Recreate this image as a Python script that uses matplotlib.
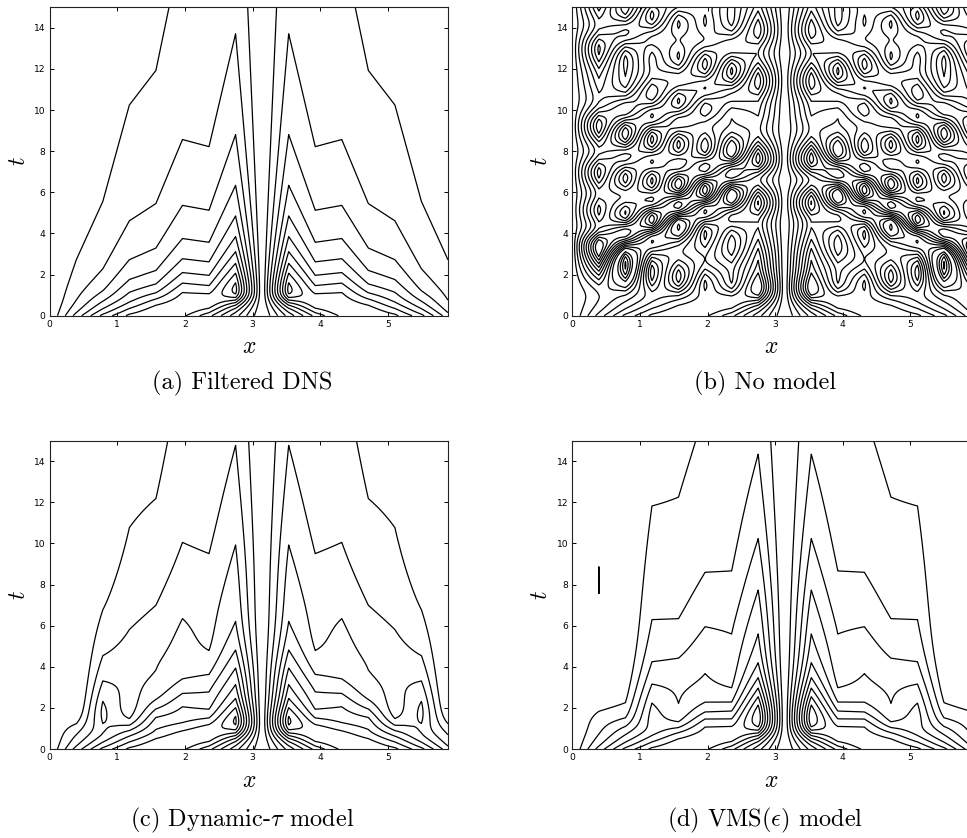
import numpy as np
import matplotlib
matplotlib.use("Agg")
import matplotlib.pyplot as plt

plt.rcParams["mathtext.fontset"] = "cm"

# ---------------------------------------------------------------------------
# Burgers' equation  u_t + (u^2/2)_x = nu u_xx  on [0, 2pi), u(x, 0) = sin(x)
# ---------------------------------------------------------------------------
domain_length = 2 * np.pi
n_coarse = 16            # LES grid points (modes |k| <= 7 retained)
n_fine = 2048            # DNS grid points
viscosity = 0.002        # DNS and unmodelled coarse run
model_viscosity = 0.01   # coarse runs with a subgrid model
t_final = 15.0
dt_save = 0.05
dt_fine = 0.00125
dt_coarse = 0.01
initial_amplitude = 1.0

tau_dynamic = 0.6        # residual-based fine-scale time scale
vms_coefficient = 0.5    # small-scale eddy-viscosity constant
vms_split = 4            # largest wavenumber treated as "large scale"

contour_levels = [-1.12, -1.008, -0.896, -0.784, -0.672, -0.56, -0.448, -0.336, -0.224, -0.112,
                  0.112, 0.224, 0.336, 0.448, 0.56, 0.672, 0.784, 0.896, 1.008, 1.12]
x_ticks = [0, 1, 2, 3, 4, 5]
t_ticks = [0, 2, 4, 6, 8, 10, 12, 14]
captions = ["(a) Filtered DNS", "(b) No model",
            r"(c) Dynamic-$\tau$ model", r"(d) VMS($\epsilon$) model"]


def to_grid(vh, n, m):
    pad = np.zeros(m // 2 + 1, complex)
    pad[: len(vh)] = vh
    return np.fft.irfft(pad, n=m) * (m / n)


def to_modes(v, n, m, count):
    return np.fft.rfft(v)[:count] * (n / m)


def burgers_rhs(n, model=None):
    m = 4 * n if model == "dynamic" else 3 * n // 2
    k = np.arange(n // 2 + 1)
    ik = 1j * k
    h = domain_length / n
    nk = n // 2 + 1

    def rhs(uh):
        u = to_grid(uh, n, m)
        out = -0.5 * ik * to_modes(u * u, n, m, nk)
        if model == "dynamic":
            k2 = np.arange(n + 1)
            res = 0.5j * k2 * to_modes(u * u, n, m, n + 1)
            res[: n // 2] = 0
            u_fine = to_grid(-tau_dynamic * res, n, m)
            out = out - ik * to_modes(u * u_fine + 0.5 * u_fine * u_fine, n, m, nk)
        elif model == "vms":
            ux = to_grid(ik * uh, n, m)
            small = uh.copy()
            small[: vms_split + 1] = 0
            sx = to_grid(ik * small, n, m)
            f = ik * to_modes((vms_coefficient * h) ** 2 * np.abs(ux) * sx, n, m, nk)
            f[: vms_split + 1] = 0
            out = out + f
        out[-1] = 0
        return out
    return rhs


def run(n, dt, nu, model, sample):
    k = np.arange(n // 2 + 1)
    e_half = np.exp(-nu * k ** 2 * dt / 2)
    e_full = e_half ** 2
    rhs = burgers_rhs(n, model)
    uh = np.fft.rfft(initial_amplitude * np.sin(domain_length * np.arange(n) / n))
    uh[-1] = 0
    steps = int(round(dt_save / dt))
    frames = [sample(uh)]
    for _ in range(int(round(t_final / dt_save))):
        for _ in range(steps):
            k1 = rhs(uh)
            k2 = rhs(e_half * (uh + 0.5 * dt * k1))
            k3 = rhs(e_half * uh + 0.5 * dt * k2)
            k4 = rhs(e_full * uh + dt * e_half * k3)
            uh = e_full * uh + dt / 6 * (e_full * k1 + 2 * e_half * (k2 + k3) + k4)
        frames.append(sample(uh))
    return np.array(frames)


def sample_filtered(uh):
    c = uh[: n_coarse // 2 + 1] * (n_coarse / n_fine)
    c[-1] = 0
    return np.fft.irfft(c, n=n_coarse)


def sample_coarse(uh):
    return np.fft.irfft(uh, n=n_coarse)


x = domain_length * np.arange(n_coarse) / n_coarse
t = np.arange(int(round(t_final / dt_save)) + 1) * dt_save

fields = [run(n_fine, dt_fine, viscosity, None, sample_filtered),
          run(n_coarse, dt_coarse, viscosity, None, sample_coarse),
          run(n_coarse, dt_coarse, model_viscosity, "dynamic", sample_coarse),
          run(n_coarse, dt_coarse, model_viscosity, "vms", sample_coarse)]

# ---------------------------------------------------------------------------
W, H = 967, 838
fig = plt.figure(figsize=(W / 100, H / 100), dpi=100)
boxes = [(49.7, 7.3), (572.3, 7.3), (49.7, 440.7), (572.3, 440.7)]
aw, ah = 398.3, 308.4
caption_xy = [(242, 383), (765, 383), (242, 820), (765, 820)]

for (left, top), U, cap, (cx, cy) in zip(boxes, fields, captions, caption_xy):
    ax = fig.add_axes([left / W, 1 - (top + ah) / H, aw / W, ah / H])
    ax.contour(x, t, U, levels=contour_levels, colors="k", linewidths=0.9,
               linestyles="solid")
    ax.set_xlim(x[0], x[-1])
    ax.set_ylim(0, t_final)
    ax.set_xticks(x_ticks)
    ax.set_yticks(t_ticks)
    ax.tick_params(direction="in", top=True, right=True, length=3, width=0.7,
                   labelsize=6.6, pad=3)
    for s in ax.spines.values():
        s.set_linewidth(0.8)
        s.set_color("#222222")
    ax.set_xlabel("$x$", fontsize=17)
    ax.set_ylabel("$t$", fontsize=17)
    ax.xaxis.set_label_coords(0.5, -0.06)
    ax.yaxis.set_label_coords(-0.05, 0.5)
    fig.text(cx / W, 1 - cy / H, cap, ha="center", va="center",
             family="cmr10", fontsize=17.5)

fig.savefig("out.png", dpi=100)
